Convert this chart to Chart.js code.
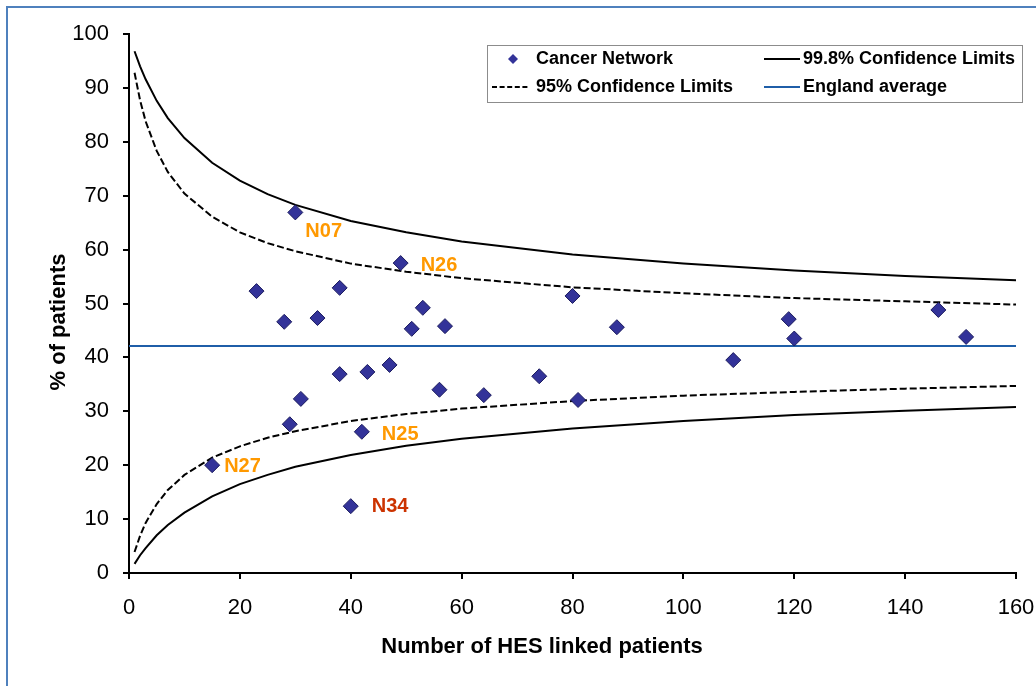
<!DOCTYPE html>
<html>
<head>
<meta charset="utf-8">
<script src="https://cdn.jsdelivr.net/npm/chart.js@4.4.1/dist/chart.umd.min.js"></script>
<style>
html, body { margin: 0; padding: 0; background: #fff; overflow: hidden; }
#wrap { position: relative; width: 1036px; height: 686px; }
#frame { position: absolute; left: 6px; top: 6px; width: 1100px; height: 700px;
  border-left: 2px solid #4f81bd; border-top: 2px solid #4f81bd; pointer-events: none; }
</style>
</head>
<body>
<div id="wrap">
  <canvas id="chart" width="1036" height="686"></canvas>
  <div id="frame"></div>
</div>
<script>
// cancer networks: number of HES linked patients vs % of patients
const networkX = [15, 23, 28, 29, 30, 31, 34, 38, 38, 40, 42, 43, 47, 49, 51, 53, 56, 57, 64, 74, 80, 81, 88, 109, 119, 120, 146, 151];
const networkY = [20.0, 52.3, 46.6, 27.6, 66.9, 32.3, 47.3, 36.9, 52.9, 12.4, 26.2, 37.3, 38.6, 57.5, 45.3, 49.2, 34.0, 45.8, 33.0, 36.5, 51.4, 32.1, 45.6, 39.5, 47.1, 43.5, 48.8, 43.8];

// funnel limits
const limitN   = [1, 2, 3, 5, 7, 10, 15, 20, 25, 30, 40, 50, 60, 80, 100, 120, 140, 160];
const upper998 = [96.8, 94.0, 91.6, 87.6, 84.4, 80.7, 76.1, 72.8, 70.3, 68.3, 65.3, 63.2, 61.5, 59.1, 57.4, 56.1, 55.1, 54.3];
const lower998 = [1.7, 3.3, 4.6, 7.0, 8.9, 11.2, 14.2, 16.5, 18.2, 19.7, 21.9, 23.6, 24.9, 26.8, 28.2, 29.3, 30.1, 30.8];
const upper95  = [92.8, 87.7, 83.8, 78.3, 74.4, 70.4, 66.1, 63.2, 61.2, 59.7, 57.4, 55.9, 54.7, 53.0, 51.9, 51.0, 50.4, 49.8];
const lower95  = [3.9, 6.9, 9.3, 12.8, 15.4, 18.2, 21.4, 23.5, 25.1, 26.3, 28.2, 29.5, 30.5, 31.9, 32.9, 33.6, 34.2, 34.7];

const englandAverage = 42.1;
const englandRange = [0, 160];

// named outliers
const outlierNames = ['N07', 'N26', 'N25', 'N27', 'N34'];
const outlierX = [30, 49, 42, 15, 40];
const outlierY = [66.9, 57.5, 26.2, 20.0, 12.4];

const xTitle = 'Number of HES linked patients';
const yTitle = '% of patients';

// label styling (pixel offsets from the point, colours)
const outlierStyle = [
  {dx: 10, dy: 19, color: '#FF9900'},
  {dx: 20, dy: 2, color: '#FF9900'},
  {dx: 20, dy: 3, color: '#FF9900'},
  {dx: 12, dy: 1, color: '#FF9900'},
  {dx: 21, dy: 0, color: '#CC3300'}
];

const FONT = '"Liberation Sans", Arial, Helvetica, sans-serif';
const toXY = (xs, ys) => xs.map((v, i) => ({x: v, y: ys[i]}));

const blackLine = (label, data, dash) => ({
  label: label,
  data: data,
  showLine: true,
  borderColor: '#000',
  borderWidth: 2,
  borderDash: dash,
  pointRadius: 0,
  tension: 0,
  fill: false
});

const datasets = [
  {
    label: 'Cancer Network',
    data: toXY(networkX, networkY),
    showLine: false,
    pointStyle: 'rectRot',
    pointRadius: 7.5,
    backgroundColor: '#333399',
    borderColor: '#1c1c5e',
    borderWidth: 1
  },
  blackLine('99.8% Confidence Limits', toXY(limitN, upper998), []),
  blackLine('99.8% Confidence Limits', toXY(limitN, lower998), []),
  blackLine('95% Confidence Limits', toXY(limitN, upper95), [7, 3]),
  blackLine('95% Confidence Limits', toXY(limitN, lower95), [7, 3]),
  {
    label: 'England average',
    data: englandRange.map(v => ({x: v, y: englandAverage})),
    showLine: true,
    borderColor: '#1F5EA8',
    borderWidth: 2,
    pointRadius: 0,
    fill: false
  }
];

// which dataset goes where in the boxed legend
const legendItems = [
  {ds: 0, col: 0, row: 0},
  {ds: 1, col: 1, row: 0},
  {ds: 3, col: 0, row: 1},
  {ds: 5, col: 1, row: 1}
];

const overlay = {
  id: 'overlay',
  afterDraw(chart) {
    const ctx = chart.ctx;
    const xs = chart.scales.x, ys = chart.scales.y;
    ctx.save();

    // outlier labels
    ctx.font = 'bold 20px ' + FONT;
    ctx.textAlign = 'left';
    ctx.textBaseline = 'middle';
    outlierNames.forEach((name, i) => {
      const st = outlierStyle[i];
      ctx.fillStyle = st.color;
      ctx.fillText(name, xs.getPixelForValue(outlierX[i]) + st.dx, ys.getPixelForValue(outlierY[i]) + st.dy);
    });

    // axis titles
    ctx.fillStyle = '#000';
    ctx.font = 'bold 22px ' + FONT;
    ctx.textAlign = 'center';
    ctx.fillText(xTitle, 542, 647);
    ctx.save();
    ctx.translate(59, 322);
    ctx.rotate(-Math.PI / 2);
    ctx.fillText(yTitle, 0, 0);
    ctx.restore();

    // legend box
    const box = {left: 487, top: 45, width: 535, height: 57};
    const rows = [59, 87];
    const cols = [[492, 530, 536], [764, 800, 803]];
    ctx.fillStyle = '#fff';
    ctx.fillRect(box.left, box.top, box.width, box.height);
    ctx.strokeStyle = '#8c8c8c';
    ctx.lineWidth = 1;
    ctx.setLineDash([]);
    ctx.strokeRect(box.left + 0.5, box.top + 0.5, box.width, box.height);
    ctx.font = 'bold 18px ' + FONT;
    ctx.textAlign = 'left';
    ctx.textBaseline = 'middle';
    legendItems.forEach(item => {
      const ds = chart.data.datasets[item.ds];
      const c = cols[item.col], yy = rows[item.row];
      if (ds.showLine === false) {
        const cx = (c[0] + c[1]) / 2 + 2, r = 5;
        ctx.beginPath();
        ctx.moveTo(cx - r, yy); ctx.lineTo(cx, yy - r); ctx.lineTo(cx + r, yy); ctx.lineTo(cx, yy + r);
        ctx.closePath();
        ctx.fillStyle = ds.backgroundColor;
        ctx.fill();
      } else {
        ctx.beginPath();
        ctx.setLineDash(ds.borderDash && ds.borderDash.length ? [5, 2.6] : []);
        ctx.strokeStyle = ds.borderColor;
        ctx.lineWidth = 2;
        ctx.moveTo(c[0], yy); ctx.lineTo(c[1], yy);
        ctx.stroke();
        ctx.setLineDash([]);
      }
      ctx.fillStyle = '#000';
      ctx.fillText(ds.label, c[2], yy);
    });
    ctx.restore();
  }
};

new Chart(document.getElementById('chart'), {
  type: 'scatter',
  data: {datasets: datasets},
  options: {
    responsive: false,
    animation: false,
    events: [],
    layout: {padding: {left: 0, right: 20, top: 34, bottom: 0}},
    plugins: {legend: {display: false}, tooltip: {enabled: false}},
    scales: {
      x: {
        type: 'linear',
        min: 0, max: 160,
        afterFit(scale) { scale.height = 113; scale.paddingLeft = 0; scale.paddingRight = 0; },
        ticks: {stepSize: 20, color: '#000', padding: 16, font: {family: FONT, size: 22}},
        grid: {display: true, drawOnChartArea: false, drawTicks: true, tickLength: 6, color: '#000', lineWidth: 2},
        border: {display: true, color: '#000', width: 2}
      },
      y: {
        type: 'linear',
        min: 0, max: 100,
        afterFit(scale) { scale.width = 129; scale.paddingTop = 0; scale.paddingBottom = 0; },
        ticks: {stepSize: 10, color: '#000', padding: 14, font: {family: FONT, size: 22}},
        grid: {display: true, drawOnChartArea: false, drawTicks: true, tickLength: 6, color: '#000', lineWidth: 2},
        border: {display: true, color: '#000', width: 2}
      }
    }
  },
  plugins: [overlay]
});
</script>
</body>
</html>
